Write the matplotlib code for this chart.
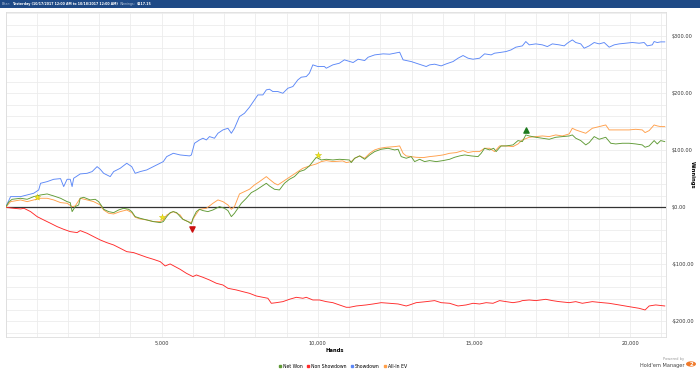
import matplotlib
matplotlib.use('Agg')
import matplotlib.pyplot as plt
from matplotlib.patches import Rectangle, Circle
from matplotlib.lines import Line2D
from matplotlib.ticker import MultipleLocator, FuncFormatter

# (hands, winnings $)
showdown = [(0, 0), (160, 18.7), (480, 18.7), (690, 21.6), (900, 24.6), (1060, 30.4), (1120, 42.1), (1330, 45.0),
            (1540, 49.1), (1760, 50.3), (1860, 36.3), (1970, 49.1), (2070, 49.1), (2130, 36.3), (2180, 50.9),
            (2390, 58.5), (2610, 59.6), (2770, 62.6), (2930, 71.3), (3030, 66.7), (3140, 59.6), (3350, 53.8),
            (3460, 62.6), (3670, 68.4), (3880, 77.2), (4040, 71.3), (4150, 59.6), (4310, 62.6), (4520, 65.5),
            (4730, 71.3), (4950, 77.2), (5050, 80.1), (5160, 88.9), (5370, 94.7), (5590, 91.8), (5890, 90.1),
            (5950, 91.8), (6050, 112.3), (6210, 118.1), (6320, 121.1), (6430, 118.1), (6530, 124.0), (6690, 121.1),
            (6800, 129.8), (6960, 135.7), (7120, 138.6), (7230, 129.8), (7330, 138.6), (7490, 159.1), (7650, 164.9),
            (7810, 175.5), (7970, 188.4), (8080, 197.1), (8240, 197.1), (8350, 205.9), (8450, 207.1), (8560, 203.0),
            (8720, 203.0), (8880, 200.0), (9040, 208.8), (9200, 211.8), (9360, 223.5), (9470, 228.2), (9630, 229.3),
            (9730, 235.2), (9840, 249.8), (10000, 246.9), (10210, 246.9), (10270, 243.9), (10480, 249.8),
            (10690, 252.7), (10850, 258.6), (11130, 253.9), (11290, 259.7), (11500, 257.4), (11610, 263.2),
            (11820, 267.3), (12090, 269.1), (12300, 268.5), (12460, 270.3), (12620, 272.0), (12730, 258.6),
            (12830, 257.4), (12990, 255.6), (13150, 252.7), (13310, 249.8), (13470, 246.9), (13580, 249.8),
            (13740, 251.0), (13950, 248.0), (14110, 251.5), (14330, 255.6), (14490, 261.5), (14650, 266.2),
            (14810, 261.5), (14970, 259.7), (15180, 261.5), (15340, 269.1), (15550, 267.3), (15660, 270.3),
            (15820, 271.4), (16030, 273.2), (16190, 276.1), (16340, 280.8), (16550, 283.1), (16660, 290.7),
            (16770, 284.9), (16980, 286.6), (17190, 284.9), (17350, 281.9), (17510, 286.6), (17730, 284.9),
            (17890, 283.1), (17990, 287.8), (18150, 293.6), (18260, 289.0), (18420, 286.6), (18530, 279.0),
            (18690, 283.1), (18850, 289.0), (19010, 286.6), (19170, 289.0), (19330, 280.8), (19490, 284.9),
            (19650, 286.6), (19860, 287.8), (20070, 289.0), (20290, 287.8), (20450, 289.0), (20550, 283.1),
            (20710, 284.9), (20770, 290.7), (20870, 289.0), (20980, 290.1), (21110, 290.1)]

non_showdown = [(0, 0), (270, -1.8), (480, -2.9), (590, -1.8), (800, -7.6), (1010, -16.4), (1220, -22.2),
                (1440, -28.1), (1650, -33.9), (1860, -38.6), (2070, -42.7), (2290, -44.4), (2390, -40.9),
                (2610, -45.6), (2820, -51.5), (3030, -57.3), (3240, -62.0), (3460, -66.1), (3670, -71.9),
                (3880, -77.8), (4100, -79.5), (4310, -83.6), (4520, -87.7), (4730, -91.2), (4950, -95.3),
                (5110, -102.9), (5270, -99.4), (5430, -104.1), (5590, -108.8), (5790, -115.8), (6000, -121.6),
                (6110, -118.7), (6320, -122.8), (6530, -127.5), (6750, -133.3), (6960, -136.3), (7120, -142.1),
                (7390, -145.0), (7600, -148.0), (7810, -150.9), (8030, -155.6), (8240, -157.9), (8400, -159.6),
                (8510, -168.4), (8670, -167.3), (8880, -165.5), (9090, -161.4), (9310, -157.9), (9520, -159.6),
                (9630, -157.9), (9840, -162.6), (10050, -162.6), (10270, -165.5), (10480, -167.3), (10690, -171.3),
                (10910, -175.4), (11020, -175.4), (11230, -173.1), (11550, -171.3), (11770, -169.6), (12030, -167.3),
                (12300, -168.4), (12570, -169.6), (12830, -173.1), (12940, -171.3), (13150, -167.3), (13470, -165.5),
                (13740, -163.7), (13950, -167.3), (14220, -168.4), (14490, -173.1), (14750, -171.3), (14970, -168.4),
                (15180, -169.6), (15390, -167.3), (15610, -168.4), (15820, -163.7), (16030, -165.5), (16250, -167.3),
                (16460, -165.5), (16550, -163.7), (16770, -162.6), (16980, -163.7), (17300, -161.4), (17510, -163.7),
                (17730, -165.5), (18050, -167.3), (18260, -165.5), (18470, -168.4), (18790, -165.5), (19110, -167.3),
                (19330, -168.4), (19650, -171.3), (19970, -174.3), (20290, -177.2), (20480, -180.1), (20610, -173.1),
                (20820, -171.3), (21110, -173.1)]

net_won = [(0, 0), (110, 9.9), (210, 14.0), (480, 15.8), (690, 14.0), (900, 18.7), (1120, 21.6), (1330, 23.4),
           (1540, 19.9), (1760, 15.8), (1860, 12.9), (1970, 9.9), (2070, 8.2), (2130, -7.6), (2230, 1.2), (2340, 4.1),
           (2390, 15.8), (2500, 17.5), (2710, 12.9), (2870, 14.0), (2980, 9.9), (3090, 1.2), (3140, -3.5),
           (3300, -7.6), (3460, -9.4), (3620, -4.7), (3780, -1.8), (3940, -3.5), (4040, -7.6), (4150, -16.4),
           (4310, -19.3), (4520, -22.2), (4730, -25.1), (4950, -26.9), (5050, -25.1), (5160, -16.4), (5270, -9.4),
           (5370, -7.6), (5480, -9.4), (5590, -16.4), (5680, -21.1), (5840, -25.1), (5950, -29.2), (6000, -19.3),
           (6110, -7.6), (6210, -3.5), (6320, -5.8), (6480, -7.6), (6640, -4.7), (6850, 1.2), (7010, -1.8),
           (7120, -5.8), (7230, -16.4), (7330, -10.5), (7440, -1.8), (7550, 7.0), (7710, 15.8), (7870, 25.7),
           (8030, 30.4), (8190, 36.3), (8350, 42.1), (8450, 37.4), (8610, 31.6), (8770, 30.4), (8930, 42.1),
           (9090, 49.1), (9250, 53.8), (9410, 62.6), (9570, 65.5), (9730, 72.5), (9840, 80.1), (9950, 87.7),
           (10110, 83.0), (10270, 84.2), (10480, 83.0), (10690, 84.2), (11010, 83.0), (11070, 78.4), (11180, 86.0),
           (11340, 90.1), (11500, 84.2), (11660, 91.8), (11820, 97.7), (12030, 101.8), (12250, 103.5),
           (12460, 100.6), (12570, 101.8), (12670, 88.9), (12830, 86.0), (12990, 88.9), (13100, 80.1),
           (13260, 84.2), (13420, 80.1), (13580, 81.9), (13790, 80.1), (14010, 81.9), (14220, 84.2), (14380, 87.7),
           (14540, 90.1), (14700, 91.8), (14910, 90.1), (15130, 88.9), (15230, 94.7), (15340, 103.5),
           (15500, 100.6), (15630, 103.5), (15710, 97.7), (15870, 107.6), (16030, 107.6), (16250, 109.4),
           (16410, 117.0), (16550, 115.2), (16660, 126.9), (16770, 125.1), (16980, 122.8), (17190, 121.1),
           (17410, 119.3), (17620, 122.8), (17830, 124.0), (18050, 125.1), (18150, 126.9), (18260, 121.1),
           (18420, 117.0), (18580, 109.4), (18690, 113.5), (18850, 124.0), (19010, 119.3), (19220, 122.8),
           (19380, 112.3), (19540, 111.1), (19750, 112.3), (19970, 112.3), (20180, 111.1), (20390, 109.4),
           (20480, 105.3), (20610, 107.6), (20770, 117.0), (20870, 111.1), (20980, 117.0), (21110, 115.2)]

allin_ev = [(0, 0), (160, 9.9), (480, 12.9), (690, 9.9), (900, 12.9), (1120, 15.8), (1330, 15.8), (1540, 12.9),
            (1760, 8.2), (1970, 7.0), (2130, 1.2), (2230, 2.3), (2390, 15.8), (2610, 12.9), (2820, 9.9), (3030, 4.1),
            (3140, -4.7), (3300, -10.5), (3460, -11.7), (3670, -7.6), (3880, -4.7), (4040, -9.4), (4150, -17.5),
            (4310, -20.5), (4520, -22.2), (4730, -25.1), (4950, -25.1), (5050, -22.2), (5160, -13.5), (5370, -7.6),
            (5590, -13.5), (5680, -21.1), (5840, -25.1), (5950, -26.9), (6050, -16.4), (6210, -3.5), (6430, -1.8),
            (6640, 7.0), (6800, 12.9), (6960, 9.9), (7120, 4.1), (7230, -3.5), (7330, 1.2), (7490, 23.4),
            (7650, 27.5), (7810, 31.6), (7970, 39.2), (8130, 45.0), (8350, 53.8), (8450, 49.1), (8610, 42.1),
            (8720, 39.2), (8880, 45.0), (9040, 50.9), (9200, 56.7), (9360, 62.6), (9520, 68.4), (9730, 72.5),
            (9950, 76.0), (10110, 80.1), (10270, 81.9), (10480, 80.1), (10800, 81.3), (10910, 78.4), (11070, 80.1),
            (11180, 86.0), (11340, 90.1), (11500, 86.0), (11660, 94.7), (11820, 100.6), (11980, 103.5),
            (12190, 105.3), (12460, 106.4), (12620, 107.6), (12730, 94.7), (12830, 90.1), (12990, 88.9),
            (13150, 87.7), (13370, 87.1), (13580, 88.9), (13790, 90.1), (14010, 91.8), (14220, 94.7), (14430, 95.9),
            (14650, 99.4), (14810, 95.9), (14970, 97.7), (15180, 97.7), (15340, 103.5), (15500, 103.5),
            (15660, 97.7), (15820, 107.6), (16030, 107.6), (16250, 106.4), (16410, 111.1), (16550, 118.1),
            (16770, 122.8), (16980, 124.0), (17190, 125.1), (17410, 124.0), (17620, 126.9), (17830, 125.1),
            (18050, 128.7), (18150, 138.6), (18260, 135.7), (18420, 132.7), (18580, 129.8), (18790, 138.6),
            (19010, 141.5), (19220, 144.4), (19330, 135.7), (19540, 135.7), (19750, 135.7), (19970, 135.7),
            (20180, 136.8), (20390, 135.7), (20480, 131.0), (20610, 134.5), (20770, 144.4), (20870, 142.7),
            (20980, 141.5), (21110, 141.5)]

# milestone stars, biggest up / down markers
star_hands = [1000, 5000, 10000]
star_vals = [17.5, -16.4, 91.8]
peak = (16680, 135.7)
trough = (5970, -38.0)

header_parts = [("Filter:", '#b8c6dc', 'normal'),
                ("Yesterday (10/17/2017 12:00 AM to 10/18/2017 12:00 AM)", 'white', 'bold'),
                ("Winnings:", '#b8c6dc', 'normal'),
                ("$117.15", 'white', 'bold')]
series_names = ["Net Won", "Non Showdown", "Showdown", "All-In EV"]
series_colors = ["#5f9a35", "#ff2a2a", "#5b87f7", "#ff9f4a"]

W, H = 700, 371
fig = plt.figure(figsize=(W / 100, H / 100), dpi=100)
fig.patch.set_facecolor('white')
renderer = fig.canvas.get_renderer()

# header bar, text pieces placed one after the other
fig.patches.append(Rectangle((0, 1 - 8 / H), 1, 8 / H, transform=fig.transFigure,
                             facecolor='#1f4a86', edgecolor='none'))
x = 2
for txt, col, wt in header_parts:
    t = fig.text(x / W, 1 - 4 / H, txt, color=col, fontsize=2.35, fontweight=wt, va='center', ha='left')
    x = t.get_window_extent(renderer).x1 + 1.5

left, right, top, bottom = 5.6, 666, 12.3, 336.7
ax = fig.add_axes([left / W, 1 - bottom / H, (right - left) / W, (bottom - top) / H])
ax.set_xlim(0, 21150)
ax.set_ylim(-227, 342)

ax.xaxis.set_major_locator(MultipleLocator(5000))
ax.xaxis.set_minor_locator(MultipleLocator(1000))
ax.yaxis.set_major_locator(MultipleLocator(100))
ax.yaxis.set_minor_locator(MultipleLocator(20))
ax.grid(which='both', color='#ececec', linewidth=0.6)
ax.set_axisbelow(True)
for s in ax.spines.values():
    s.set_color('#dddddd')
    s.set_linewidth(0.6)

ax.yaxis.tick_right()
ax.tick_params(which='both', length=0, labelsize=3.6, colors='#333333')
ax.tick_params(axis='y', pad=4)
ax.tick_params(axis='x', pad=3)
ax.xaxis.set_major_formatter(FuncFormatter(lambda v, p: '' if v == 0 else f"{int(v):,}"))
ax.yaxis.set_major_formatter(FuncFormatter(lambda v, p: f"${v:,.2f}" if v >= 0 else f"-${-v:,.2f}"))

ax.axhline(0, color='#333333', linewidth=0.9, zorder=2)

order = [showdown, non_showdown, allin_ev, net_won]
cols = [series_colors[2], series_colors[1], series_colors[3], series_colors[0]]
for data, c in zip(order, cols):
    xs = [p[0] for p in data]
    ys = [p[1] for p in data]
    ax.plot(xs, ys, color=c, linewidth=0.65, zorder=3)

ax.scatter(star_hands, star_vals, marker='*', s=22, color='#f2ea1a', edgecolors='#c8b800',
           linewidths=0.3, zorder=5)
ax.scatter([peak[0]], [peak[1]], marker='^', s=14, color='#1e7a1e', zorder=5)
ax.scatter([trough[0]], [trough[1]], marker='v', s=14, color='#cc1111', zorder=5)

fig.text(335 / W, 1 - 351 / H, "Hands", fontsize=3.8, fontweight='bold', ha='center', va='center')
fig.text(692 / W, 1 - 175 / H, "Winnings", fontsize=3.8, fontweight='bold', ha='center', va='center',
         rotation=270)

handles = [Line2D([], [], marker='s', linestyle='none', markersize=1.8, color=c) for c in series_colors]
fig.legend(handles, series_names, loc='center', bbox_to_anchor=(343 / W, 1 - 366 / H), ncol=4,
           frameon=False, fontsize=3.3, handletextpad=0.4, columnspacing=0.8, handlelength=0.6)

# powered-by badge
fig.text(684 / W, 1 - 359 / H, "Powered by", fontsize=2.6, color='#999999', ha='right', va='center')
fig.text(684 / W, 1 - 365 / H, "Hold'em Manager", fontsize=3.6, color='#444444', ha='right', va='center')
fig.patches.append(Circle((691 / W, 1 - 364 / H), 5 / W, transform=fig.transFigure,
                          facecolor='#f07a2a', edgecolor='none'))
fig.text(691 / W, 1 - 364 / H, "2", fontsize=4, color='white', fontweight='bold', ha='center', va='center')

fig.savefig('out.png', dpi=100)
